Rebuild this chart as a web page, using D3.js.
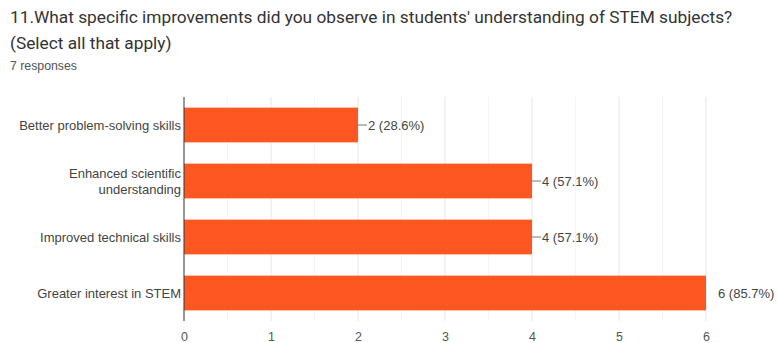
<!DOCTYPE html>
<html>
<head>
<meta charset="utf-8">
<script src="https://cdn.jsdelivr.net/npm/d3@7"></script>
<style>
  html, body { margin: 0; padding: 0; background: #fff; }
  svg { display: block; font-family: Arial, "Liberation Sans", sans-serif; }
</style>
</head>
<body>
<svg id="chart" width="777" height="343"></svg>
<script>
// Survey question and response count
const titleLines = [
  "11.What specific improvements did you observe in students' understanding of STEM subjects?",
  "(Select all that apply)"
];
const responseNote = "7 responses";

// Answer options (multi-line labels split on \n) and their counts
const categories = [
  "Better problem-solving skills",
  "Enhanced scientific\nunderstanding",
  "Improved technical skills",
  "Greater interest in STEM"
];
const counts = [2, 4, 4, 6];
const percents = ["28.6%", "57.1%", "57.1%", "85.7%"];
const xTicks = [0, 1, 2, 3, 4, 5, 6];

const svg = d3.select("#chart");
const labelFont = "Arial, 'Liberation Sans', sans-serif";

// Heading
svg.append("g").selectAll("text")
  .data(titleLines)
  .join("text")
  .attr("x", 10)
  .attr("y", (d, i) => 23 + i * 26)
  .attr("font-family", "Roboto, Arial, sans-serif")
  .attr("font-size", 17.3)
  .attr("fill", "#333")
  .text(d => d);

svg.append("text")
  .attr("x", 10).attr("y", 70)
  .attr("font-size", 12.3)
  .attr("fill", "#555")
  .text(responseNote);

// Plot geometry
const plot = { left: 184, right: 706, top: 97, bottom: 321 };

const x = d3.scaleLinear().domain([0, 6]).range([plot.left, plot.right]);
const y = d3.scaleBand().domain(categories).range([plot.top, plot.bottom]).paddingInner(0.38).paddingOuter(0.19);

// Minor gridlines at half steps
const minor = d3.range(0.5, 6, 1);
svg.append("g").selectAll("line")
  .data(minor)
  .join("line")
  .attr("x1", d => x(d)).attr("x2", d => x(d))
  .attr("y1", plot.top).attr("y2", plot.bottom)
  .attr("stroke", "#f3f3f3");

// Major gridlines
svg.append("g").selectAll("line")
  .data(xTicks.slice(1))
  .join("line")
  .attr("x1", d => x(d)).attr("x2", d => x(d))
  .attr("y1", plot.top).attr("y2", plot.bottom)
  .attr("stroke", "#e6e6e6");

// Bars
svg.append("g").selectAll("rect")
  .data(categories)
  .join("rect")
  .attr("x", x(0))
  .attr("y", d => y(d))
  .attr("width", (d, i) => x(counts[i]) - x(0))
  .attr("height", y.bandwidth())
  .attr("fill", "#ff5722");

// Baseline axis
svg.append("line")
  .attr("x1", x(0)).attr("x2", x(0))
  .attr("y1", plot.top).attr("y2", plot.bottom)
  .attr("stroke", "#333").attr("stroke-width", 1);

// X tick labels via d3 axis
const xAxis = svg.append("g")
  .attr("transform", `translate(0,${plot.bottom + 3})`)
  .call(d3.axisBottom(x).tickValues(xTicks).tickSize(0).tickPadding(8).tickFormat(d3.format("d")));
xAxis.select(".domain").remove();
xAxis.selectAll("text")
  .attr("font-family", labelFont)
  .attr("font-size", 12.5)
  .attr("fill", "#555");

// Category labels
const catG = svg.append("g");
categories.forEach(c => {
  const parts = c.split("\n");
  const cy = y(c) + y.bandwidth() / 2;
  const lineH = 16;
  parts.forEach((p, j) => {
    catG.append("text")
      .attr("x", plot.left - 3)
      .attr("y", cy + (j - (parts.length - 1) / 2) * lineH)
      .attr("dy", "0.35em")
      .attr("text-anchor", "end")
      .attr("font-size", 13)
      .attr("fill", "#444")
      .text(p);
  });
});

// Value annotations with leader lines
const ann = svg.append("g");
categories.forEach((c, i) => {
  const cy = y(c) + y.bandwidth() / 2;
  const x0 = x(counts[i]);
  const hasLeader = counts[i] < d3.max(counts);
  if (hasLeader) {
    ann.append("line")
      .attr("x1", x0).attr("x2", x0 + 9)
      .attr("y1", cy).attr("y2", cy)
      .attr("stroke", "#777");
  }
  ann.append("text")
    .attr("x", hasLeader ? x0 + 10 : x0 + 12)
    .attr("y", cy)
    .attr("dy", "0.35em")
    .attr("font-size", 13)
    .attr("fill", "#444")
    .text(`${counts[i]} (${percents[i]})`);
});
</script>
</body>
</html>
